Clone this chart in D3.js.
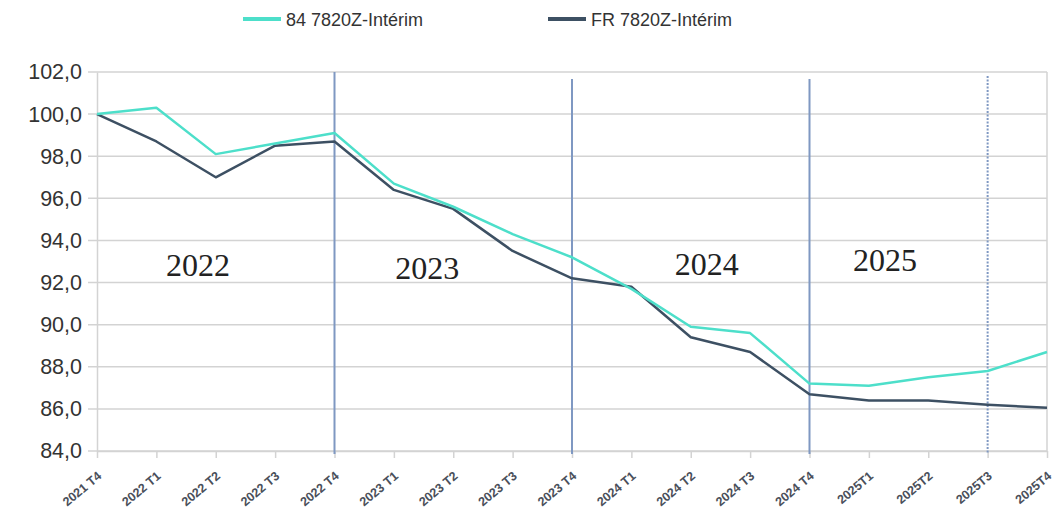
<!DOCTYPE html>
<html>
<head>
<meta charset="utf-8">
<script src="https://cdn.jsdelivr.net/npm/d3@7"></script>
<style>
    body { margin: 0; background: #fff; }
    svg { display: block; font-family: "Liberation Sans", Arial, sans-serif; }
</style>
</head>
<body>
<svg id="chart" width="1059" height="515"></svg>
<script>
const quarters = ["2021 T4", "2022 T1", "2022 T2", "2022 T3", "2022 T4",
    "2023 T1", "2023 T2", "2023 T3", "2023 T4",
    "2024 T1", "2024 T2", "2024 T3", "2024 T4",
    "2025T1", "2025T2", "2025T3", "2025T4"];

const region84 = [100.0, 100.3, 98.1, 98.6, 99.1, 96.7, 95.6, 94.3, 93.2,
    91.7, 89.9, 89.6, 87.2, 87.1, 87.5, 87.8, 88.7];

const france = [100.0, 98.7, 97.0, 98.5, 98.7, 96.4, 95.5, 93.5, 92.2,
    91.8, 89.4, 88.7, 86.7, 86.4, 86.4, 86.2, 86.05];

const seriesNames = ["84 7820Z-Intérim", "FR 7820Z-Intérim"];
const yTicks = [84, 86, 88, 90, 92, 94, 96, 98, 100, 102];

// separators between years (solid) and the last known quarter (dotted)
const yearBreaks = ["2022 T4", "2023 T4", "2024 T4"];
const dottedBreak = "2025T3";

const yearTexts = ["2022", "2023", "2024", "2025"];
// where the year texts sit: quarter index (fractional) and value on the y scale
const yearPlace = [[1.7, 92.3], [5.56, 92.17], [10.27, 92.36], [13.27, 92.55]];

const COLORS = {
    "84": "#4ddfca",
    "FR": "#3d5063",
    "sep": "#7f98c2",
    "grid": "#d3d3d3"
};

const svg = d3.select("#chart");

const area = {left: 97, right: 1047, top: 72, bottom: 451};

const scX = d3.scalePoint()
    .domain(quarters)
    .range([area.left, area.right]);

const scIdx = d3.scaleLinear()
    .domain([0, quarters.length - 1])
    .range([area.left, area.right]);

const scY = d3.scaleLinear()
    .domain([84, 102])
    .range([area.bottom, area.top]);

// horizontal grid
svg.append("g")
    .selectAll("line")
    .data(yTicks)
    .enter()
    .append("line")
    .attr("x1", area.left - 9)
    .attr("x2", area.right)
    .attr("y1", d => scY(d))
    .attr("y2", d => scY(d))
    .style("stroke", COLORS.grid)
    .style("stroke-width", 1.5);

// y axis
let axisY = d3.axisLeft(scY)
    .tickValues(yTicks)
    .tickSize(0)
    .tickPadding(15)
    .tickFormat(d => d3.format(".1f")(d).replace(".", ","));

let gy = svg.append("g")
    .attr("transform", `translate(${area.left}, 0)`)
    .call(axisY);
gy.select(".domain").style("stroke", COLORS.grid).style("stroke-width", 1.5);
gy.selectAll("text")
    .style("font-size", "21.5px")
    .style("fill", "#333")
    .style("font-family", "'Liberation Sans', Arial, sans-serif");

// right border
svg.append("line")
    .attr("x1", area.right).attr("x2", area.right)
    .attr("y1", area.top).attr("y2", area.bottom)
    .style("stroke", COLORS.grid)
    .style("stroke-width", 1.5);

// x axis
let axisX = d3.axisBottom(scX)
    .tickSize(7)
    .tickSizeOuter(0);

let gx = svg.append("g")
    .attr("transform", `translate(0, ${area.bottom})`)
    .call(axisX);
gx.select(".domain").style("stroke", COLORS.grid).style("stroke-width", 1.5);
gx.selectAll(".tick line").style("stroke", COLORS.grid).style("stroke-width", 1.5);
gx.selectAll("text")
    .attr("x", 0)
    .attr("y", 0)
    .attr("dy", "0.35em")
    .attr("transform", "translate(2, 23) rotate(-40)")
    .style("text-anchor", "end")
    .style("font-size", "12.5px")
    .style("font-weight", "bold")
    .style("fill", "#4a4f5a")
    .style("font-family", "'Liberation Sans', Arial, sans-serif");

// year separators
svg.append("g")
    .selectAll("line")
    .data(yearBreaks)
    .enter()
    .append("line")
    .attr("x1", d => scX(d))
    .attr("x2", d => scX(d))
    .attr("y1", (d, i) => i === 0 ? area.top : area.top + 7)
    .attr("y2", area.bottom + 3)
    .style("stroke", COLORS.sep)
    .style("stroke-width", 2);

svg.append("line")
    .attr("x1", scX(dottedBreak))
    .attr("x2", scX(dottedBreak))
    .attr("y1", area.top + 4)
    .attr("y2", area.bottom + 3)
    .style("stroke", COLORS.sep)
    .style("stroke-width", 2)
    .style("stroke-dasharray", "2,1.5");

// year labels
svg.append("g")
    .selectAll("text")
    .data(yearTexts)
    .enter()
    .append("text")
    .attr("x", (d, i) => scIdx(yearPlace[i][0]))
    .attr("y", (d, i) => scY(yearPlace[i][1]))
    .attr("text-anchor", "middle")
    .style("font-family", "'Liberation Serif', 'Times New Roman', serif")
    .style("font-size", "32px")
    .style("fill", "#222")
    .text(d => d);

// lines
let line = d3.line()
    .x((d, i) => scX(quarters[i]))
    .y(d => scY(d));

svg.append("path")
    .attr("d", line(france))
    .attr("fill", "none")
    .attr("stroke", COLORS.FR)
    .attr("stroke-width", 2.5)
    .attr("stroke-linejoin", "round");

svg.append("path")
    .attr("d", line(region84))
    .attr("fill", "none")
    .attr("stroke", COLORS["84"])
    .attr("stroke-width", 2.5)
    .attr("stroke-linejoin", "round");

// legend
const legend = [
    {name: seriesNames[0], color: COLORS["84"], x: 243},
    {name: seriesNames[1], color: COLORS.FR, x: 548}
];

let lg = svg.append("g")
    .selectAll("g")
    .data(legend)
    .enter()
    .append("g")
    .attr("transform", d => `translate(${d.x}, 19)`);

lg.append("line")
    .attr("x1", 0).attr("x2", 38)
    .attr("y1", 0).attr("y2", 0)
    .style("stroke", d => d.color)
    .style("stroke-width", 4);

lg.append("text")
    .attr("x", 43)
    .attr("y", 6.5)
    .style("font-size", "18px")
    .style("fill", "#333")
    .text(d => d.name);
</script>
</body>
</html>
